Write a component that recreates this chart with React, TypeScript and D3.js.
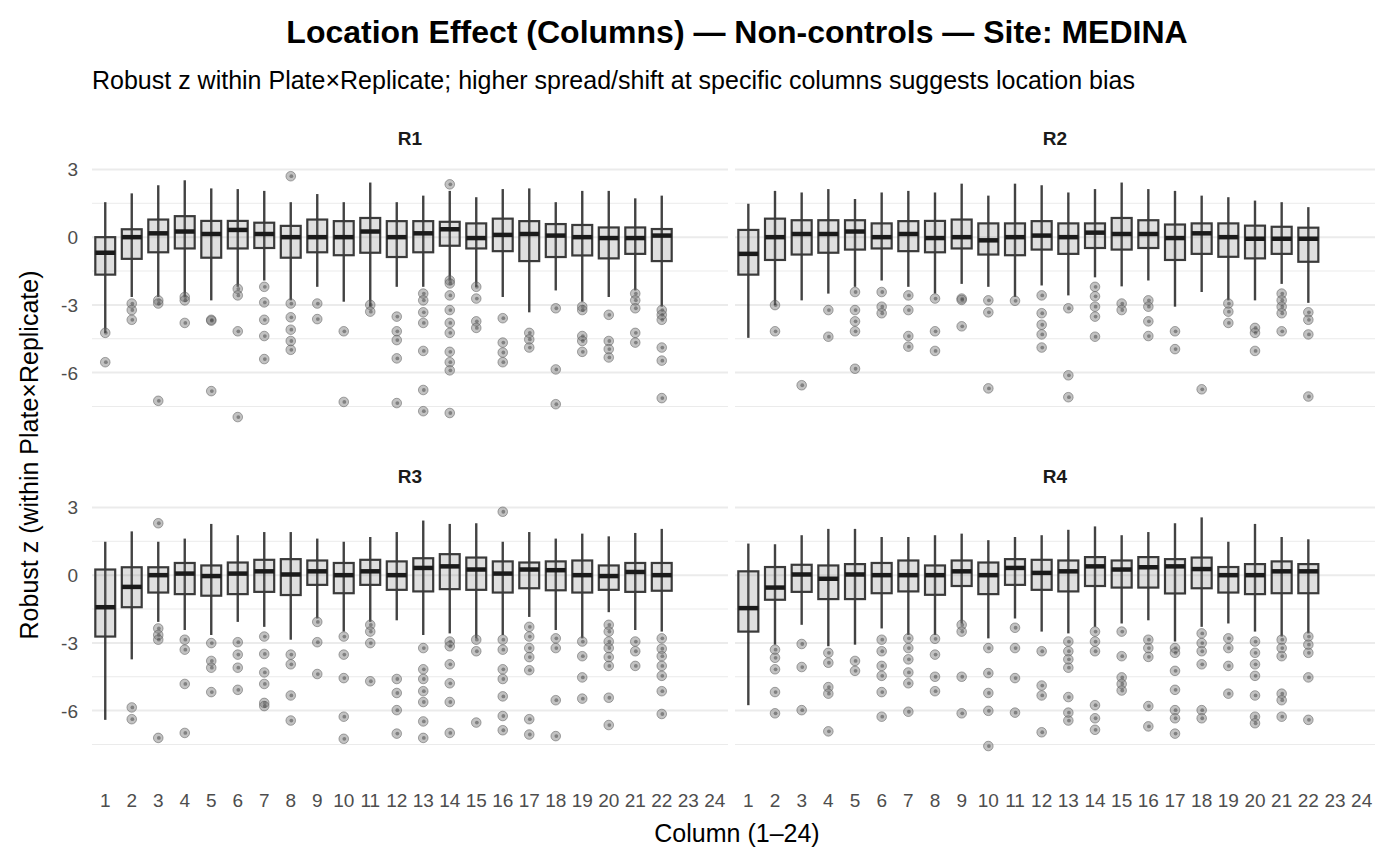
import React from 'react'
import * as d3 from 'd3'

const columns = d3.range(1, 25)
const facets = ['R1', 'R2', 'R3', 'R4']

// box stats per facet, per column 1..22: [lowerWhisker, q1, median, q3, upperWhisker]
const boxesR1 = [
  [-4.24, -1.66, -0.69, 0, 1.55], [-2.65, -0.96, 0, 0.35, 1.94], [-2.65, -0.67, 0.17, 0.78, 2.3],
  [-2.65, -0.5, 0.25, 0.93, 2.52], [-2.8, -0.91, 0.14, 0.72, 2.16], [-2.2, -0.5, 0.32, 0.72, 2.13],
  [-1.92, -0.48, 0.14, 0.64, 2.05], [-2.8, -0.91, 0, 0.5, 1.55], [-2.2, -0.67, 0, 0.78, 1.91],
  [-2.86, -0.8, 0, 0.71, 1.55], [-3.08, -0.69, 0.25, 0.85, 2.42], [-2.2, -0.88, 0, 0.71, 1.55],
  [-2.2, -0.67, 0.17, 0.71, 1.84], [-1.92, -0.38, 0.35, 0.68, 2.05], [-2.2, -0.5, -0.04, 0.61, 1.77],
  [-2.65, -0.62, 0.1, 0.82, 2.13], [-3.33, -1.06, 0.14, 0.71, 2.16], [-2.36, -0.88, 0.07, 0.58, 1.55],
  [-2.86, -0.81, 0, 0.54, 2.05], [-2.65, -0.94, -0.04, 0.43, 2.05], [-2.36, -0.74, -0.04, 0.43, 1.72],
  [-3.08, -1.06, 0.07, 0.36, 1.84],
]
const boxesR2 = [
  [-4.46, -1.66, -0.74, 0.32, 1.48], [-3.01, -1.01, 0, 0.82, 2.05], [-2.8, -0.77, 0.14, 0.75, 1.98],
  [-2.5, -0.69, 0.14, 0.75, 2.13], [-2.2, -0.55, 0.25, 0.75, 1.69], [-1.92, -0.5, 0, 0.61, 1.98],
  [-2.2, -0.62, 0.14, 0.71, 2.05], [-2.5, -0.67, -0.04, 0.72, 1.98], [-2.07, -0.5, 0, 0.78, 2.37],
  [-2.2, -0.77, -0.14, 0.61, 1.84], [-2.65, -0.8, 0, 0.61, 2.37], [-2.14, -0.55, 0.07, 0.71, 2.3],
  [-2.58, -0.74, 0, 0.61, 1.98], [-1.78, -0.48, 0.2, 0.61, 2.13], [-2.18, -0.55, 0.14, 0.85, 2.42],
  [-1.92, -0.48, 0.14, 0.75, 2.13], [-3.08, -1.01, -0.04, 0.56, 2.05], [-2.43, -0.74, 0.17, 0.61, 1.84],
  [-2.8, -0.87, 0, 0.61, 1.77], [-2.8, -0.94, -0.07, 0.51, 1.62], [-2.07, -0.74, -0.07, 0.46, 1.55],
  [-2.91, -1.09, -0.07, 0.42, 1.33],
]
const boxesR3 = [
  [-6.41, -2.72, -1.42, 0.25, 1.48], [-3.73, -1.42, -0.52, 0.35, 1.94], [-2.07, -0.77, 0, 0.35, 1.48],
  [-2.43, -0.84, 0.07, 0.54, 1.62], [-2.65, -0.91, -0.04, 0.43, 2.27], [-2.07, -0.84, 0.07, 0.56, 1.77],
  [-2.29, -0.74, 0.17, 0.68, 1.91], [-2.86, -0.88, 0.03, 0.71, 1.91], [-1.92, -0.43, 0.17, 0.65, 1.62],
  [-2.5, -0.8, 0, 0.54, 1.48], [-2.07, -0.43, 0.17, 0.68, 1.69], [-2.0, -0.65, 0, 0.61, 1.91],
  [-2.65, -0.72, 0.32, 0.75, 2.42], [-2.58, -0.62, 0.39, 0.93, 2.27], [-2.8, -0.65, 0.25, 0.78, 2.3],
  [-2.65, -0.77, 0.07, 0.61, 1.48], [-1.85, -0.58, 0.25, 0.56, 1.91], [-2.43, -0.67, 0.22, 0.61, 1.62],
  [-2.8, -0.77, 0, 0.65, 1.84], [-1.64, -0.65, -0.04, 0.43, 1.72], [-2.43, -0.74, 0.14, 0.54, 1.87],
  [-2.5, -0.69, 0, 0.54, 2.05],
]
const boxesR4 = [
  [-5.76, -2.5, -1.46, 0.17, 1.4], [-3.08, -1.09, -0.55, 0.36, 1.37], [-2.2, -0.74, 0.03, 0.46, 1.77],
  [-3.15, -1.06, -0.16, 0.43, 2.05], [-3.08, -1.06, 0.03, 0.49, 2.05], [-2.36, -0.8, 0, 0.54, 1.69],
  [-2.65, -0.72, 0, 0.65, 1.69], [-2.65, -0.87, 0, 0.43, 1.77], [-2.14, -0.48, 0.17, 0.65, 1.84],
  [-2.8, -0.84, 0, 0.56, 1.55], [-1.92, -0.43, 0.32, 0.71, 1.69], [-2.5, -0.65, 0.1, 0.68, 1.77],
  [-2.58, -0.72, 0.17, 0.65, 2.01], [-2.29, -0.48, 0.39, 0.8, 2.16], [-2.14, -0.55, 0.25, 0.65, 1.77],
  [-2.0, -0.55, 0.35, 0.8, 1.91], [-2.94, -0.81, 0.39, 0.71, 2.3], [-2.29, -0.58, 0.27, 0.78, 2.56],
  [-2.14, -0.77, 0, 0.36, 1.48], [-2.5, -0.84, 0, 0.49, 2.27], [-2.72, -0.8, 0.17, 0.61, 1.69],
  [-2.58, -0.8, 0.17, 0.49, 1.59],
]

// outliers per facet, per column 1..22
const outliersR1 = [
  [-4.24, -5.54], [-2.94, -3.23, -3.66], [-2.8, -2.94, -7.25], [-2.65, -2.8, -3.8], [-3.66, -3.7, -6.82],
  [-2.29, -2.58, -4.17, -7.97], [-2.2, -2.89, -3.66, -4.38, -5.4], [2.7, -2.94, -3.55, -4.1, -4.6, -4.99],
  [-2.94, -3.63], [-4.17, -7.3], [-3.0, -3.3], [-3.52, -4.17, -4.56, -5.37, -7.35],
  [-2.5, -2.8, -3.33, -3.8, -5.04, -6.77, -7.71],
  [2.34, -1.92, -2.05, -2.58, -3.23, -3.8, -4.24, -5.08, -5.54, -5.9, -7.79],
  [-2.2, -2.72, -3.73, -4.02], [-3.59, -4.67, -5.11, -5.54], [-4.24, -4.53, -4.89], [-3.15, -5.86, -7.4],
  [-3.08, -3.23, -4.38, -4.6, -5.08], [-3.44, -4.6, -4.96, -5.33], [-2.5, -2.8, -3.15, -4.24, -4.67],
  [-3.23, -3.44, -3.66, -4.89, -5.47, -7.13],
]
const outliersR2 = [
  [], [-3.01, -4.17], [-6.56], [-3.23, -4.41], [-2.43, -3.23, -3.73, -4.17, -5.83], [-2.43, -3.08, -3.37],
  [-2.58, -3.23, -4.38, -4.85], [-2.72, -4.17, -5.04], [-2.72, -2.78, -3.95], [-2.8, -3.33, -6.7], [-2.82],
  [-2.58, -3.37, -3.88, -4.31, -4.89], [-3.15, -6.12, -7.09], [-2.2, -2.62, -3.08, -3.52, -4.41],
  [-2.94, -3.23], [-2.8, -3.08, -3.73, -4.38], [-4.17, -4.96], [-6.74], [-2.94, -3.3, -3.8],
  [-4.02, -4.24, -5.04], [-2.5, -2.8, -3.08, -3.37, -4.17], [-3.33, -3.66, -4.31, -7.06],
]
const outliersR3 = [
  [], [-5.86, -6.38], [2.3, -2.36, -2.65, -2.86, -7.21], [-2.86, -3.3, -4.82, -6.99], [-3.01, -3.8, -4.1, -5.18],
  [-2.97, -3.52, -4.1, -5.08], [-2.72, -3.49, -4.31, -4.82, -5.66, -5.8], [-3.52, -3.95, -5.33, -6.44],
  [-2.07, -2.97, -4.38], [-2.72, -3.52, -4.56, -6.27, -7.25], [-2.2, -2.5, -3.01, -4.7],
  [-4.6, -5.22, -5.98, -7.02], [-3.23, -4.17, -4.6, -5.14, -5.62, -6.48, -7.21],
  [-2.94, -3.15, -3.95, -4.79, -5.62, -6.99], [-2.86, -3.37, -6.53],
  [2.81, -2.86, -3.3, -4.17, -4.6, -5.37, -6.24, -6.87], [-2.29, -2.72, -3.23, -3.63, -4.21, -6.38, -7.06],
  [-2.8, -3.23, -5.54, -7.13], [-2.94, -3.59, -4.53, -5.47],
  [-2.2, -2.5, -2.94, -3.23, -3.63, -4.02, -5.43, -6.64], [-2.94, -3.37, -4.02],
  [-2.8, -3.26, -3.59, -4.02, -4.46, -5.14, -6.15],
]
const outliersR4 = [
  [], [-3.3, -3.66, -4.17, -5.18, -6.12], [-3.05, -4.07, -5.98], [-3.44, -3.88, -4.96, -5.25, -6.92],
  [-3.8, -4.24], [-2.86, -3.37, -4.02, -4.46, -5.18, -6.27], [-2.8, -3.23, -3.73, -4.31, -4.79, -6.05],
  [-2.82, -3.52, -4.5, -5.14], [-2.2, -2.5, -4.5, -6.12], [-3.23, -4.34, -5.22, -6.01, -7.57],
  [-2.33, -3.23, -4.56, -6.09], [-3.37, -4.89, -5.33, -6.96], [-2.94, -3.37, -3.73, -4.1, -5.4, -6.09, -6.44],
  [-2.5, -2.94, -3.37, -5.76, -6.34, -6.85], [-2.5, -3.59, -4.53, -4.82, -5.11], [-2.86, -3.23, -3.62, -5.8, -6.7],
  [-3.23, -3.44, -4.24, -5.08, -5.98, -6.34, -7.02], [-2.58, -3.01, -3.37, -3.95, -5.98, -6.34],
  [-2.8, -3.23, -4.02, -5.25], [-2.94, -3.44, -3.95, -4.46, -5.33, -6.27, -6.56],
  [-2.86, -3.23, -3.59, -5.25, -5.54, -6.27], [-2.72, -3.08, -3.44, -4.53, -6.41],
]

const boxes = [boxesR1, boxesR2, boxesR3, boxesR4]
const outliers = [outliersR1, outliersR2, outliersR3, outliersR4]
const yTicks = [-6, -3, 0, 3]
const yMinor = [-7.5, -4.5, -1.5, 1.5]

const font = 'Liberation Sans, Arial, sans-serif'
const panelX = [[92, 728], [735, 1375]]
const panelY = [[148, 420], [486, 758]]

function Panel({ idx }: { idx: number }) {
  const [x0, x1] = panelX[idx % 2]
  const [y0, y1] = panelY[Math.floor(idx / 2)]
  const x = d3.scalePoint<number>().domain(columns).range([x0, x1]).padding(0.5)
  const y = d3.scaleLinear().domain([-8.1, 3.95]).range([y1, y0])
  const bw = x.step() * 0.75
  return (
    <g>
      {yMinor.map(t => (
        <line key={'m' + t} x1={x0} x2={x1} y1={y(t)} y2={y(t)} stroke="#ebebeb" strokeWidth={1} />
      ))}
      {yTicks.map(t => (
        <line key={'g' + t} x1={x0} x2={x1} y1={y(t)} y2={y(t)} stroke="#ebebeb" strokeWidth={2} />
      ))}
      <text x={(x0 + x1) / 2} y={y0 - 3} textAnchor="middle" fontWeight="bold" fontSize={19} fill="#1a1a1a">
        {facets[idx]}
      </text>
      {idx % 2 === 0 && yTicks.map(t => (
        <text key={'t' + t} x={x0 - 14} y={y(t) + 7} textAnchor="end" fontSize={19} fill="#4d4d4d">{t}</text>
      ))}
      {boxes[idx].map((b, i) => {
        const cx = x(i + 1)!
        return (
          <g key={i}>
            <line x1={cx} x2={cx} y1={y(b[4])} y2={y(b[0])} stroke="#222" strokeWidth={2.4} opacity={0.85} />
            <rect x={cx - bw / 2} y={y(b[3])} width={bw} height={y(b[1]) - y(b[3])}
              fill="rgba(110,110,110,0.22)" stroke="#3a3a3a" strokeWidth={2.2} />
            <line x1={cx - bw / 2} x2={cx + bw / 2} y1={y(b[2])} y2={y(b[2])} stroke="#1a1a1a" strokeWidth={4.5} />
          </g>
        )
      })}
      {outliers[idx].map((vals, i) => vals.map((v, j) => (
        <g key={i + '-' + j}>
          <circle cx={x(i + 1)!} cy={y(v)} r={4.8} fill="#777" fillOpacity={0.45} stroke="#555" strokeOpacity={0.5} />
          <circle cx={x(i + 1)! + 0.6} cy={y(v)} r={1.9} fill="#333" fillOpacity={0.45} />
        </g>
      )))}
      {Math.floor(idx / 2) === 1 && columns.map(c => (
        <text key={'c' + c} x={x(c)!} y={807} textAnchor="middle" fontSize={19} fill="#4d4d4d">{c}</text>
      ))}
    </g>
  )
}

export default function App() {
  return (
    <svg width={1400} height={865} style={{ position: 'absolute', left: 0, top: 0, background: '#fff' }} fontFamily={font}>
      <text x={737} y={43} textAnchor="middle" fontWeight="bold" fontSize={32} fill="#000">
        Location Effect (Columns) — Non-controls — Site: MEDINA
      </text>
      <text x={92} y={89} fontSize={25} fill="#000">
        Robust z within Plate×Replicate; higher spread/shift at specific columns suggests location bias
      </text>
      {[0, 1, 2, 3].map(i => <Panel key={i} idx={i} />)}
      <text x={737} y={842} textAnchor="middle" fontSize={25} fill="#000">Column (1–24)</text>
      <text transform="translate(38,455) rotate(-90)" textAnchor="middle" fontSize={25} fill="#000">
        Robust z (within Plate×Replicate)
      </text>
    </svg>
  )
}
